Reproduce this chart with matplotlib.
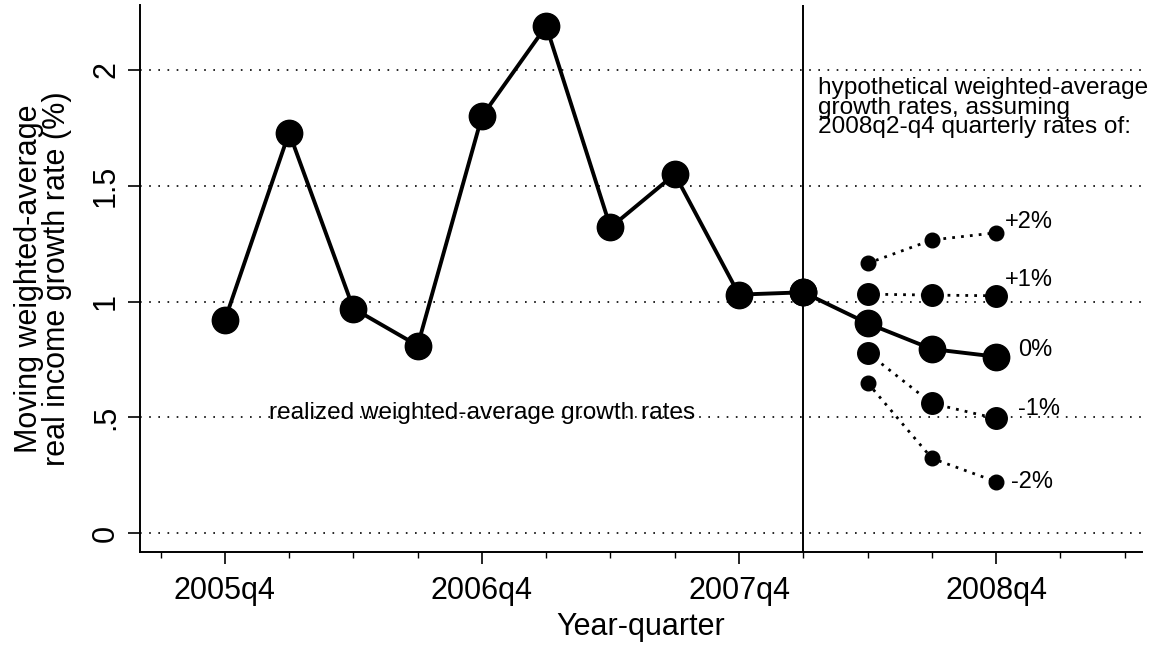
#!/usr/bin/python3

import matplotlib
matplotlib.use("Agg")
import matplotlib.pyplot as plt
from matplotlib.ticker import FixedLocator

# realized moving weighted-average growth rates (%)
realized_q = ["2005q4", "2006q1", "2006q2", "2006q3", "2006q4",
              "2007q1", "2007q2", "2007q3", "2007q4", "2008q1"]
realized = [0.92, 1.73, 0.97, 0.81, 1.80, 2.19, 1.32, 1.55, 1.03, 1.04]

# hypothetical paths for 2008q2-q4
hyp_q = ["2008q2", "2008q3", "2008q4"]
hyp_p2 = [1.165, 1.266, 1.297]
hyp_p1 = [1.032, 1.028, 1.025]
hyp_0 = [0.906, 0.795, 0.762]
hyp_m1 = [0.779, 0.560, 0.495]
hyp_m2 = [0.649, 0.323, 0.222]

major_q = ["2005q4", "2006q4", "2007q4", "2008q4"]
minor_q = ["2005q3", "2006q1", "2006q2", "2006q3", "2007q1", "2007q2", "2007q3",
           "2008q1", "2008q2", "2008q3", "2009q1", "2009q2"]
yticks = [0, 0.5, 1, 1.5, 2]
ytick_labels = ["0", ".5", "1", "1.5", "2"]
split_q = "2008q1"


def qnum(s):
    y, q = s.split("q")
    return 4 * int(y) + int(q) - 1


def main():
    plt.rcParams["font.family"] = ["Liberation Sans", "DejaVu Sans"]
    fig = plt.figure(figsize=(11.6, 6.48), dpi=100)
    ax = fig.add_axes([0.1207, 0.148, 0.8638, 0.844])

    for y in yticks:
        ax.axhline(y, color="black", linestyle=(0, (1, 4.5)), linewidth=1.2, zorder=1)
    ax.axvline(qnum(split_q), color="black", linewidth=1.4, zorder=2)

    xr = [qnum(q) for q in realized_q]
    xh = [qnum(q) for q in hyp_q]

    ax.plot(xr, realized, color="black", linewidth=2.8, marker="o",
            markersize=19, zorder=5)
    ax.plot([xr[-1]] + xh, [realized[-1]] + hyp_0, color="black", linewidth=2.8,
            marker="o", markersize=19, zorder=5)
    for vals, ms in [(hyp_p1, 15.5), (hyp_m1, 15.5), (hyp_p2, 10.5), (hyp_m2, 10.5)]:
        ax.plot(xh, vals, color="black", linewidth=2.0, linestyle=(0, (1, 2.2)),
                marker="o", markersize=ms, zorder=4)

    lab_fs = 17
    ax.annotate("+2%", (xh[-1], hyp_p2[-1]), xytext=(6.5, 7.5), textcoords="offset points",
                fontsize=lab_fs, ha="left", va="center")
    ax.annotate("+1%", (xh[-1], hyp_p1[-1]), xytext=(6.5, 11), textcoords="offset points",
                fontsize=lab_fs, ha="left", va="center")
    ax.annotate("0%", (xh[-1], hyp_0[-1]), xytext=(16, 5), textcoords="offset points",
                fontsize=lab_fs, ha="left", va="center")
    ax.annotate("-1%", (xh[-1], hyp_m1[-1]), xytext=(16, 7), textcoords="offset points",
                fontsize=lab_fs, ha="left", va="center")
    ax.annotate("-2%", (xh[-1], hyp_m2[-1]), xytext=(11, 0), textcoords="offset points",
                fontsize=lab_fs, ha="left", va="center")

    ax.text(qnum("2006q4"), 0.52, "realized weighted-average growth rates",
            fontsize=17.6, ha="center", va="center", zorder=3)
    ax.text(qnum(split_q) + 0.23, 1.97,
            "hypothetical weighted-average\ngrowth rates, assuming\n2008q2-q4 quarterly rates of:",
            fontsize=17.6, ha="left", va="top", linespacing=0.86, zorder=3)

    ax.set_xlim(qnum("2005q4") - 1.32, qnum("2008q4") + 2.27)
    ax.set_ylim(-0.082, 2.28)

    ax.xaxis.set_major_locator(FixedLocator([qnum(q) for q in major_q]))
    ax.xaxis.set_minor_locator(FixedLocator([qnum(q) for q in minor_q]))
    ax.set_xticklabels(major_q)
    ax.set_yticks(yticks)
    ax.set_yticklabels(ytick_labels, rotation=90, va="center")

    ax.tick_params(axis="x", which="major", length=8.6, width=1.2, labelsize=22, pad=8.5)
    ax.tick_params(axis="x", which="minor", length=4.5, width=1.0)
    ax.tick_params(axis="y", which="major", length=8.6, width=1.2, labelsize=22, pad=5)

    ax.spines["top"].set_visible(False)
    ax.spines["right"].set_visible(False)
    ax.spines["left"].set_linewidth(1.4)
    ax.spines["bottom"].set_linewidth(1.4)

    ax.set_xlabel("Year-quarter", fontsize=22, labelpad=4.5)
    ax.set_ylabel("Moving weighted-average\nreal income growth rate (%)", fontsize=22,
                  labelpad=14, linespacing=0.9)

    fig.savefig("out.png", dpi=100)


if __name__ == "__main__":
    main()
